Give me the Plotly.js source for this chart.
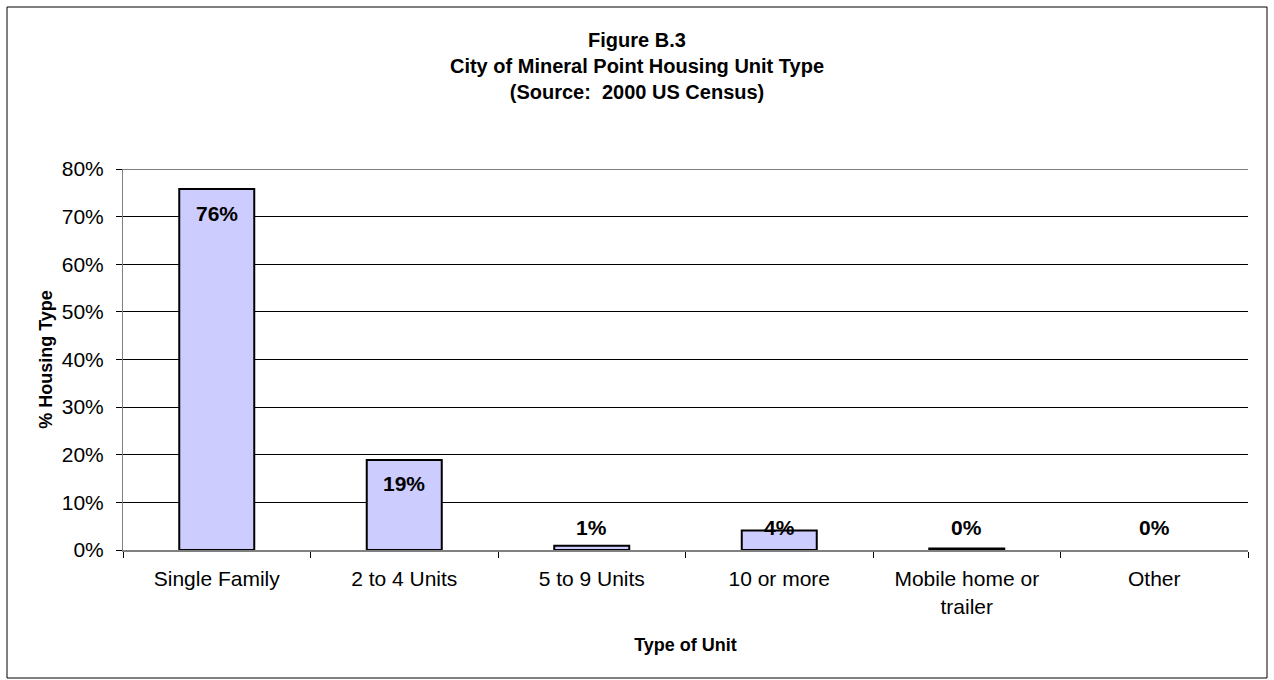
<!DOCTYPE html>
<html>
<head>
<meta charset="utf-8">
<script src="https://cdn.plot.ly/plotly-3.0.1.min.js"></script>
<style>
  html, body { margin: 0; padding: 0; background: #fff; }
  #chart { width: 1274px; height: 680px; }
</style>
</head>
<body>
<div id="chart"></div>
<script>
const categories = ["Single Family", "2 to 4 Units", "5 to 9 Units", "10 or more", "Mobile home or<br>trailer", "Other"];
const shares = [0.758, 0.189, 0.009, 0.041, 0.003, 0.0];
const labels = ["76%", "19%", "1%", "4%", "0%", "0%"];
const yTickVals = [0, 0.1, 0.2, 0.3, 0.4, 0.5, 0.6, 0.7, 0.8];
const yTickText = ["0%", "10%", "20%", "30%", "40%", "50%", "60%", "70%", "80%"];

const FONT = "Liberation Sans, Arial, sans-serif";

const trace = {
  type: "bar",
  x: categories,
  y: shares,
  width: 0.4,
  marker: {
    color: "#CCCCFF",
    line: { color: "#000000", width: shares.map(v => (v > 0 ? 2 : 0)) }
  },
  hoverinfo: "skip"
};

const smallLabelLevel = 0.048;
const annotations = categories.map((c, i) => {
  const big = shares[i] > 0.1;
  return {
    x: c, y: big ? shares[i] : smallLabelLevel,
    xref: "x", yref: "y",
    text: "<b>" + labels[i] + "</b>",
    showarrow: false,
    yanchor: "middle",
    yshift: big ? -24 : 0,
    font: { family: FONT, size: 21, color: "#000" }
  };
});

const L = 123, R = 26, T = 169, B = 130, W = 1274, H = 680;
const pw = W - L - R, ph = H - T - B;
const px = v => (v - L) / pw;
const py = v => (H - B - v) / ph;
const yMax = yTickVals[yTickVals.length - 1];

const layout = {
  width: W, height: H,
  margin: { l: L, r: R, t: T, b: B },
  paper_bgcolor: "#fff", plot_bgcolor: "#fff",
  font: { family: FONT, color: "#000" },
  showlegend: false,
  title: {
    text: "<b>Figure B.3<br>City of Mineral Point Housing Unit Type<br>(Source:  2000 US Census)</b>",
    x: 0.5, xref: "container", xanchor: "center",
    y: 1 - 47 / H, yref: "container", yanchor: "top",
    font: { family: FONT, size: 20, color: "#000" }
  },
  xaxis: {
    type: "category",
    tickson: "boundaries",
    ticks: "outside", ticklen: 6, tickcolor: "#000",
    ticklabelstandoff: 9,
    showline: true, linecolor: "#808080", linewidth: 2,
    showgrid: false, zeroline: false,
    tickfont: { family: FONT, size: 21, color: "#000" },
    title: { text: "<b>Type of Unit</b>", font: { family: FONT, size: 18, color: "#000" }, standoff: 22 },
    fixedrange: true
  },
  yaxis: {
    range: [0, yMax],
    tickvals: yTickVals, ticktext: yTickText,
    ticks: "outside", ticklen: 6, tickcolor: "#000",
    ticklabelstandoff: 8,
    showline: true, linecolor: "#808080", linewidth: 1,
    showgrid: true, gridcolor: "#000", gridwidth: 1,
    zeroline: false,
    tickfont: { family: FONT, size: 21, color: "#000" },
    title: { text: "<b>% Housing Type</b>", font: { family: FONT, size: 18, color: "#000" }, standoff: 4 },
    fixedrange: true
  },
  annotations: annotations,
  shapes: [
    {
      type: "line", xref: "paper", yref: "y",
      x0: 0, x1: 1, y0: yMax, y1: yMax,
      line: { color: "#000", width: 1 }, layer: "below"
    },
    {
      type: "rect", xref: "paper", yref: "paper",
      x0: px(7), x1: px(1267), y0: py(678), y1: py(7),
      line: { color: "#000", width: 1 }, fillcolor: "rgba(0,0,0,0)", layer: "below"
    }
  ]
};

Plotly.newPlot("chart", [trace], layout, { displayModeBar: false, staticPlot: true });
</script>
</body>
</html>
